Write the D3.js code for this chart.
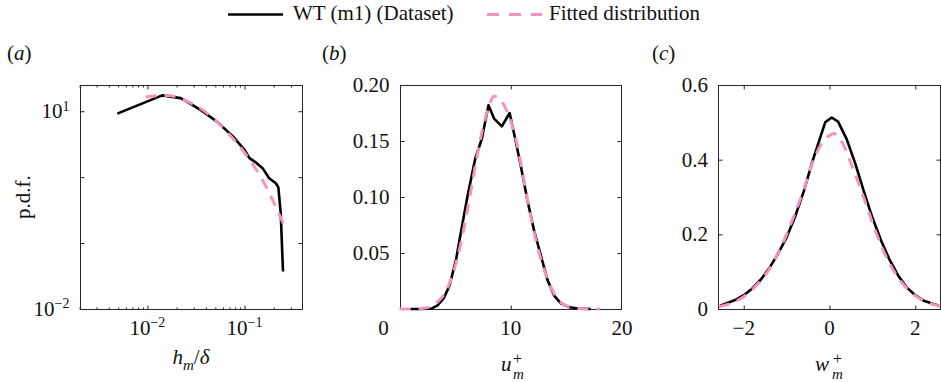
<!DOCTYPE html>
<html>
<head>
<meta charset="utf-8">
<script src="https://d3js.org/d3.v7.min.js"></script>
<style>
  body { margin: 0; background: #fff; }
  svg { display: block; }
  text { font-family: "Liberation Serif", Tinos, "DejaVu Serif", serif; font-size: 21px; fill: #111; }
  .box { fill: none; stroke: #262626; stroke-width: 1; }
  .tick line { stroke: #262626; }
  .data { fill: none; stroke: #000; stroke-width: 2.6; stroke-linejoin: round; }
  .fit { fill: none; stroke: #f394bf; stroke-width: 3; stroke-dasharray: 11,8; }
</style>
</head>
<body>
<script>
// (a) h_m / delta, log-log
var hmX   = [0.0049, 0.0142, 0.022, 0.0255, 0.0348, 0.0515, 0.076, 0.1, 0.1125, 0.1316, 0.1535, 0.1795, 0.21, 0.223, 0.236, 0.249];
var hmPdf = [9.2, 17.4, 15.8, 14.0, 10.6, 7.03, 4.15, 2.6, 1.94, 1.66, 1.37, 0.96, 0.807, 0.70, 0.28, 0.037];
var hmFitX   = [0.0096, 0.013, 0.016, 0.02, 0.0255, 0.0407, 0.065, 0.104, 0.153, 0.21, 0.269];
var hmFitPdf = [16.4, 17.2, 17.4, 16.5, 14.2, 9.46, 4.95, 2.18, 0.905, 0.355, 0.156];

// (b) u_m^+
var umX   = [1, 2, 2.9, 3.4, 4.0, 4.5, 5.1, 5.6, 6.1, 6.8, 7.4, 8.0, 8.5, 9.2, 9.9, 10.4, 10.9, 11.5, 12.1, 12.7, 13.3, 13.9, 14.5, 15.3, 16.2, 17.2];
var umPdf = [0, 0, 0.0005, 0.003, 0.01, 0.021, 0.045, 0.073, 0.1, 0.134, 0.152, 0.182, 0.17, 0.163, 0.175, 0.152, 0.128, 0.097, 0.07, 0.048, 0.026, 0.012, 0.005, 0.0015, 0.0003, 0];
var umFitX   = [0, 1, 2, 3, 3.5, 4, 4.5, 5, 5.5, 6, 6.5, 7, 7.5, 8, 8.5, 9, 9.5, 10, 10.5, 11, 11.5, 12, 12.5, 13, 13.5, 14, 14.5, 15, 16, 17, 18];
var umFitPdf = [0, 0, 0.0005, 0.003, 0.007, 0.013, 0.023, 0.038, 0.058, 0.083, 0.11, 0.138, 0.162, 0.18, 0.19, 0.188, 0.18, 0.168, 0.15, 0.125, 0.098, 0.073, 0.052, 0.035, 0.022, 0.012, 0.006, 0.003, 0.0007, 0.0001, 0];

// (c) w_m^+
var wmX   = [-2.55, -2.2, -2.0, -1.8, -1.6, -1.4, -1.2, -1.0, -0.8, -0.6, -0.4, -0.2, -0.1, 0.05, 0.2, 0.4, 0.6, 0.8, 1.0, 1.2, 1.4, 1.6, 1.8, 2.0, 2.2, 2.55];
var wmPdf = [0.009, 0.024, 0.037, 0.055, 0.079, 0.11, 0.148, 0.192, 0.248, 0.315, 0.395, 0.465, 0.5, 0.513, 0.502, 0.455, 0.39, 0.315, 0.245, 0.184, 0.132, 0.09, 0.058, 0.037, 0.022, 0.009];
var wmFitX   = [-2.58, -2.2, -2.0, -1.8, -1.6, -1.4, -1.2, -1.0, -0.8, -0.6, -0.4, -0.2, 0.0, 0.1, 0.3, 0.5, 0.7, 0.9, 1.1, 1.3, 1.5, 1.7, 1.9, 2.1, 2.3, 2.58];
var wmFitPdf = [0.006, 0.02, 0.033, 0.052, 0.077, 0.107, 0.15, 0.2, 0.258, 0.32, 0.39, 0.44, 0.465, 0.47, 0.445, 0.39, 0.33, 0.265, 0.2, 0.145, 0.102, 0.069, 0.045, 0.028, 0.017, 0.007];

var width = 941, height = 382;
var top0 = 85, bot0 = 309;

var svg = d3.select("body").append("svg")
  .attr("width", width)
  .attr("height", height)
  .attr("font-family", "Liberation Serif");

// legend
svg.append("line").attr("x1", 228).attr("x2", 283).attr("y1", 14.5).attr("y2", 14.5)
  .attr("stroke", "#000").attr("stroke-width", 2.6);
svg.append("text").attr("x", 293).attr("y", 20).text("WT (m1) (Dataset)");
svg.append("line").attr("x1", 487).attr("x2", 542).attr("y1", 14.5).attr("y2", 14.5)
  .attr("stroke", "#f394bf").attr("stroke-width", 3).attr("stroke-dasharray", "12,10");
svg.append("text").attr("x", 549).attr("y", 20).text("Fitted distribution");

function zip(xs, ys) { return xs.map(function(v, i) { return [v, ys[i]]; }); }

function panelLabel(x, letter) {
  var t = svg.append("text").attr("x", x).attr("y", 60);
  t.append("tspan").text("(");
  t.append("tspan").attr("font-style", "italic").text(letter);
  t.append("tspan").text(")");
}

function box(x, y) {
  var x0 = x.range()[0], x1 = x.range()[1];
  svg.append("rect").attr("class", "box")
    .attr("x", Math.round(x0) + 0.5).attr("y", top0 + 0.5)
    .attr("width", Math.round(x1) - Math.round(x0) - 1).attr("height", bot0 - top0);
}

function mirror(x, y, xt, yt, size) {
  svg.append("g").attr("transform", "translate(0," + (bot0 + 0.5) + ")")
    .call(d3.axisBottom(x).tickValues(xt).tickSizeInner(-size).tickSizeOuter(0).tickFormat(""))
    .call(function(g) { g.select(".domain").remove(); });
  svg.append("g").attr("transform", "translate(0," + (top0 + 0.5) + ")")
    .call(d3.axisTop(x).tickValues(xt).tickSizeInner(-size).tickSizeOuter(0).tickFormat(""))
    .call(function(g) { g.select(".domain").remove(); });
  if (yt) {
    svg.append("g").attr("transform", "translate(" + (Math.round(x.range()[0]) + 0.5) + ",0)")
      .call(d3.axisLeft(y).tickValues(yt).tickSizeInner(-size).tickSizeOuter(0).tickFormat(""))
      .call(function(g) { g.select(".domain").remove(); });
    svg.append("g").attr("transform", "translate(" + (Math.round(x.range()[1]) - 0.5) + ",0)")
      .call(d3.axisRight(y).tickValues(yt).tickSizeInner(-size).tickSizeOuter(0).tickFormat(""))
      .call(function(g) { g.select(".domain").remove(); });
  }
}

function xLabels(x, vals, fmt) {
  svg.append("g").selectAll("text").data(vals).enter().append("text")
    .attr("x", function(d) { return x(d); })
    .attr("y", 335)
    .attr("text-anchor", "middle")
    .each(function(d) { fmt(d3.select(this), d); });
}

function yLabels(x, y, vals, fmt) {
  svg.append("g").selectAll("text").data(vals).enter().append("text")
    .attr("x", x.range()[0] - 10)
    .attr("y", function(d) { return y(d); })
    .attr("dy", "0.34em")
    .attr("text-anchor", "end")
    .each(function(d) { fmt(d3.select(this), d); });
}

function pow10(sel, e) {
  sel.append("tspan").text("10");
  sel.append("tspan").attr("dy", "-0.55em").style("font-size", "14px").text(e < 0 ? "\u2212" + (-e) : e);
}

function lines(x, y, data, fit, dataCurve) {
  svg.append("path").attr("class", "data")
    .attr("d", d3.line().x(function(d) { return x(d[0]); }).y(function(d) { return y(d[1]); }).curve(dataCurve)(data));
  svg.append("path").attr("class", "fit")
    .attr("d", d3.line().x(function(d) { return x(d[0]); }).y(function(d) { return y(d[1]); }).curve(d3.curveMonotoneX)(fit));
}

// ---------- (a)
var xa = d3.scaleLog().domain([0.002, 0.4]).range([79.5, 303]);
var ya = d3.scaleLog().domain([0.01, 25]).range([bot0, top0]);
box(xa, ya);
var minorA = [0.002, 0.003, 0.004, 0.005, 0.006, 0.007, 0.008, 0.009, 0.02, 0.03, 0.04, 0.05, 0.06, 0.07, 0.08, 0.09, 0.2, 0.3];
mirror(xa, ya, minorA, null, 2);
mirror(xa, ya, [0.01, 0.1], [0.1, 1, 10], 4);
xLabels(xa, [0.01, 0.1], function(s, d) { pow10(s, Math.round(Math.log10(d))); });
yLabels(xa, ya, [10, 0.01], function(s, d) { pow10(s, Math.round(Math.log10(d))); });
lines(xa, ya, zip(hmX, hmPdf), zip(hmFitX, hmFitPdf), d3.curveLinear);
panelLabel(7, "a");
svg.append("text").attr("transform", "translate(30,197) rotate(-90)")
  .attr("text-anchor", "middle").text("p.d.f.");
var ta = svg.append("text").attr("x", 191).attr("y", 364).attr("text-anchor", "middle");
ta.append("tspan").style("font-style", "italic").text("h");
ta.append("tspan").style("font-style", "italic").style("font-size", "15px").attr("dy", 6).text("m");
ta.append("tspan").attr("dy", -6).text("/");
ta.append("tspan").style("font-style", "italic").text("\u03b4");

// ---------- (b)
var xb = d3.scaleLinear().domain([0, 20]).range([399.5, 622]);
var yb = d3.scaleLinear().domain([0, 0.2]).range([bot0, top0]);
box(xb, yb);
mirror(xb, yb, [10], [0.05, 0.1, 0.15], 4);
xLabels(xb, [0, 10, 20], function(s, d) { s.text(d); if (d === 0) s.attr("dx", -16); });
yLabels(xb, yb, [0.05, 0.1, 0.15, 0.2], function(s, d) { s.text(d3.format(".2f")(d)); });
lines(xb, yb, zip(umX, umPdf), zip(umFitX, umFitPdf), d3.curveLinear);
panelLabel(322, "b");
svg.append("text").attr("x", 501).attr("y", 371).style("font-style", "italic").text("u");
svg.append("text").attr("x", 513).attr("y", 379).style("font-style", "italic").style("font-size", "15px").text("m");
svg.append("text").attr("x", 513).attr("y", 364).style("font-size", "16px").text("+");

// ---------- (c)
var xc = d3.scaleLinear().domain([-2.6, 2.6]).range([718, 941]);
var yc = d3.scaleLinear().domain([0, 0.6]).range([bot0, top0]);
box(xc, yc);
mirror(xc, yc, [-2, 0, 2], [0.2, 0.4], 4);
xLabels(xc, [-2, 0, 2], function(s, d) { s.text(d3.format("d")(d)); });
yLabels(xc, yc, [0, 0.2, 0.4, 0.6], function(s, d) { s.text(d === 0 ? "0" : d3.format(".1f")(d)); });
lines(xc, yc, zip(wmX, wmPdf), zip(wmFitX, wmFitPdf), d3.curveLinear);
panelLabel(652, "c");
svg.append("text").attr("x", 815).attr("y", 371).style("font-style", "italic").text("w");
svg.append("text").attr("x", 832).attr("y", 379).style("font-style", "italic").style("font-size", "15px").text("m");
svg.append("text").attr("x", 833).attr("y", 364).style("font-size", "16px").text("+");
</script>
</body>
</html>
